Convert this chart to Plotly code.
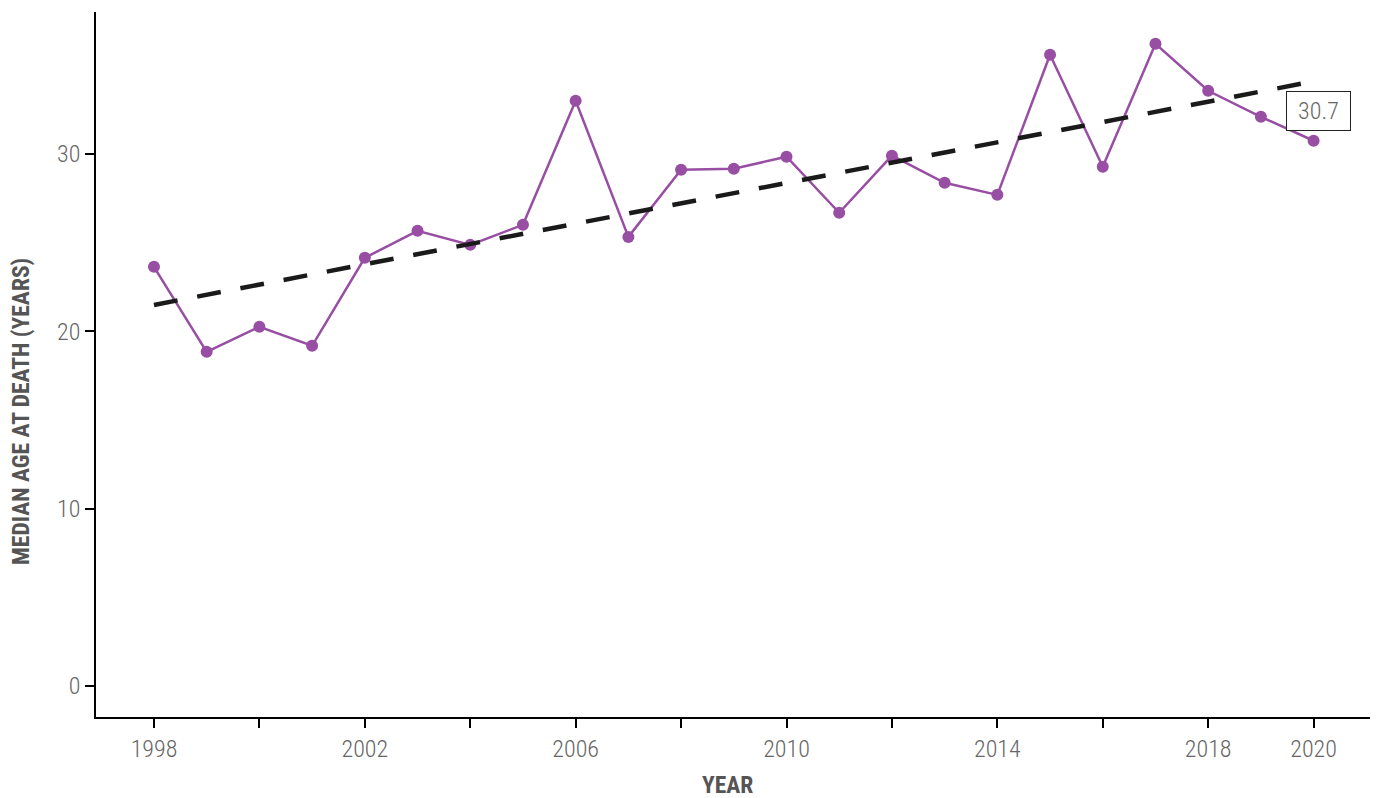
import numpy as np
import plotly.graph_objects as go

years = list(range(1998, 2021))
median_age = [23.63, 18.84, 20.25, 19.18, 24.14, 25.66, 24.87, 26.0, 33.0, 25.32,
              29.1, 29.16, 29.84, 26.68, 29.9, 28.37, 27.69, 35.59, 29.27, 36.21,
              33.56, 32.09, 30.74]
x_tickvals = list(range(1998, 2021, 2))
x_ticktext = ["1998", "", "2002", "", "2006", "", "2010", "", "2014", "", "2018", "2020"]
y_tickvals = [0, 10, 20, 30]
x_title = "YEAR"
y_title = "MEDIAN AGE AT DEATH (YEARS)"

slope, intercept = np.polyfit(years, median_age, 1)
trend_x = [years[0], years[-1]]
trend_y = [slope * v + intercept for v in trend_x]

FONT = "Roboto Condensed, Liberation Sans Narrow, Arial Narrow, Roboto, sans-serif"
TITLE_FONT = dict(family=FONT, size=23.5, color="#555555", weight=700)

fig = go.Figure()
fig.add_trace(go.Scatter(x=years, y=median_age, mode="lines+markers",
                         line=dict(color="#984EA3", width=2.5),
                         marker=dict(color="#984EA3", size=12),
                         showlegend=False, hoverinfo="x+y"))
fig.add_trace(go.Scatter(x=trend_x, y=trend_y, mode="lines",
                         line=dict(color="#1a1a1a", width=4.5, dash="24px,20px"),
                         showlegend=False, hoverinfo="skip"))

fig.add_annotation(x=years[-1], y=median_age[-1], text=f"{median_age[-1]:.1f}",
                   showarrow=False, yshift=30, xshift=4.5,
                   width=61, height=36, borderpad=1,
                   font=dict(family=FONT, size=24, color="#666666", weight=300),
                   bordercolor="#222222", borderwidth=1,
                   bgcolor="white")

# axis titles placed as annotations to match the reference offsets
fig.add_annotation(xref="paper", yref="paper", x=0.496, y=-0.0965, text=x_title,
                   height=24, borderpad=0,
                   showarrow=False, xanchor="center", yanchor="middle", font=TITLE_FONT)
fig.add_annotation(xref="paper", yref="paper", x=-0.0593, y=0.4333, text=y_title,
                   textangle=-90, showarrow=False, xanchor="center", yanchor="middle",
                   font=TITLE_FONT)

fig.update_layout(
    width=1370, height=790,
    paper_bgcolor="white", plot_bgcolor="white",
    margin=dict(l=88, r=8, t=4, b=81),
    font=dict(family=FONT, color="#666666", size=24, weight=300),
    xaxis=dict(range=[1996.9, 2021.07], tickvals=x_tickvals, ticktext=x_ticktext,
               automargin=False,
               showgrid=False, zeroline=False, showline=True, linecolor="black",
               linewidth=1.5, ticks="outside", ticklen=9, tickwidth=1.5, tickcolor="black",
               tickfont=dict(family=FONT, size=24, color="#666666", weight=300)),
    yaxis=dict(range=[-1.75, 38.0], tickvals=y_tickvals,
               automargin=False,
               showgrid=False, zeroline=False, showline=True, linecolor="black",
               linewidth=1.5, ticks="outside", ticklen=9, tickwidth=1.5, tickcolor="black",
               tickfont=dict(family=FONT, size=24, color="#666666", weight=300)),
)

fig.write_html("out.html")
